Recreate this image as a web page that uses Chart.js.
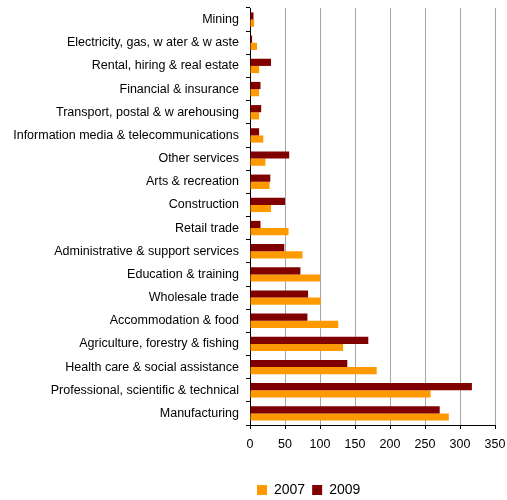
<!DOCTYPE html>
<html>
<head>
<meta charset="utf-8">
<script src="https://cdn.jsdelivr.net/npm/chart.js@4/dist/chart.umd.min.js"></script>
<style>
  html, body { margin: 0; padding: 0; background: #fff; }
  #wrap { width: 507px; height: 500px; }
</style>
</head>
<body>
<div id="wrap"><canvas id="c" width="507" height="500"></canvas></div>
<script>
// industries, top to bottom
var industries = [
  "Mining",
  "Electricity, gas, w ater & w aste",
  "Rental, hiring & real estate",
  "Financial & insurance",
  "Transport, postal & w arehousing",
  "Information media & telecommunications",
  "Other services",
  "Arts & recreation",
  "Construction",
  "Retail trade",
  "Administrative & support services",
  "Education & training",
  "Wholesale trade",
  "Accommodation & food",
  "Agriculture, forestry & fishing",
  "Health care & social assistance",
  "Professional, scientific & technical",
  "Manufacturing"
];

var values2007 = [6, 10, 13, 13, 13, 19, 22, 28, 30, 55, 75, 100, 101, 126, 133, 181, 258, 284];
var values2009 = [5, 3, 30, 15, 16, 13, 56, 29, 50, 15, 49, 72, 83, 82, 169, 139, 317, 271];

var xTicks = [0, 50, 100, 150, 200, 250, 300, 350];

var font = "'Liberation Sans', Arial, sans-serif";

new Chart(document.getElementById("c"), {
  type: "bar",
  data: {
    labels: industries,
    datasets: [
      { label: "2009", data: values2009, backgroundColor: "#800000" },
      { label: "2007", data: values2007, backgroundColor: "#FF9900" }
    ]
  },
  options: {
    indexAxis: "y",
    responsive: false,
    animation: false,
    layout: { padding: { top: 8, right: 12, left: 0, bottom: -7 } },
    datasets: { bar: { categoryPercentage: 0.62, barPercentage: 1.0 } },
    scales: {
      x: {
        min: xTicks[0],
        max: xTicks[xTicks.length - 1],
        afterBuildTicks: function (s) { s.ticks = xTicks.map(function (v) { return { value: v }; }); },
        afterFit: function (s) {
          s.height += 16;
          s.paddingLeft = 0;
          s.paddingRight = 0;
        },
        border: { color: "#000", width: 1 },
        grid: { color: "#a6a6a6", tickColor: "#000", tickLength: 4 },
        ticks: { color: "#000", padding: 8, font: { family: font, size: 12.5 } }
      },
      y: {
        afterFit: function (s) {
          s.width = 250;
          s.paddingTop = 0;
          s.paddingBottom = 0;
        },
        border: { color: "#000", width: 1 },
        grid: { drawOnChartArea: false, tickColor: "#000", tickLength: 4, offset: true },
        ticks: { color: "#000", padding: 7, autoSkip: false, font: { family: font, size: 12.5 } }
      }
    },
    plugins: {
      tooltip: { enabled: false },
      legend: {
        position: "bottom",
        align: "start",
        fullSize: false,
        reverse: true,
        labels: {
          color: "#000",
          boxWidth: 10,
          boxHeight: 10,
          padding: 7,
          font: { family: font, size: 14 }
        }
      }
    }
  }
});
</script>
</body>
</html>
